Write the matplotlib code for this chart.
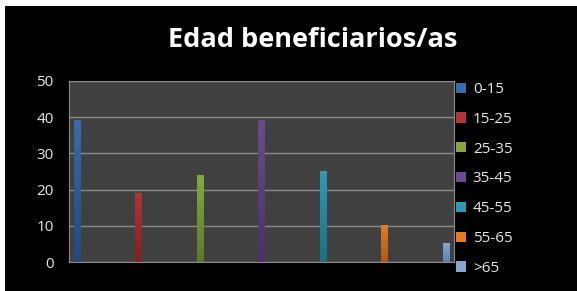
import numpy as np
import matplotlib.pyplot as plt
from matplotlib.patches import Rectangle, Patch
from matplotlib.colors import LinearSegmentedColormap

categorias = ['0-15', '15-25', '25-35', '35-45', '45-55', '55-65', '>65']
valores = [39, 19, 24, 39, 25, 10, 5]
colores = ['#3a6aa8', '#b03535', '#86a83e', '#6a4b8f', '#2e9ab5', '#e47b25', '#86a6d0']
oscuros = ['#234a7a', '#7e2222', '#5e7a28', '#4a3268', '#1d6f85', '#b05814', '#5d7fae']

plt.rcParams['font.family'] = ['Open Sans', 'DejaVu Sans']

fig = plt.figure(figsize=(5.77, 2.91), dpi=100)
fig.patch.set_facecolor('white')
fig.add_artist(Rectangle((5 / 577, 0), 1, 1 - 6 / 291, transform=fig.transFigure,
                         facecolor='black', edgecolor='none', zorder=-10))

ax = fig.add_axes([69 / 577, 29 / 291, 385 / 577, 181 / 291])
ax.set_facecolor('#404040')

x = np.arange(len(valores))
ancho = 0.1
grad = np.linspace(0, 1, 50).reshape(-1, 1)
for i, v in enumerate(valores):
    # degradado vertical como en Excel
    cmap = LinearSegmentedColormap.from_list('g', [oscuros[i], colores[i]])
    ax.imshow(grad, extent=(x[i] - ancho / 2, x[i] + ancho / 2, 0, v), origin='lower',
              cmap=cmap, aspect='auto', zorder=3)

ax.set_xlim(-0.13, 6.13)
ax.set_ylim(0, 50)
ax.set_yticks([0, 10, 20, 30, 40, 50])
ax.set_xticks([])
ax.yaxis.grid(True, color='#8a8a8a', linewidth=1)
ax.set_axisbelow(True)
for s in ax.spines.values():
    s.set_color('#8a8a8a')
ax.tick_params(axis='y', length=0, pad=11, labelsize=11, labelcolor='#e6e6e6')

fig.text(313 / 577, 1 - 40 / 291, 'Edad beneficiarios/as', ha='center', va='center',
         color='white', fontsize=19.5, fontweight='bold')

handles = [Patch(facecolor=c, edgecolor='none') for c in colores]
leg = fig.legend(handles, categorias, loc='upper left', bbox_to_anchor=(456 / 577, 1 - 82 / 291),
                 frameon=False, fontsize=11, labelcolor='#e6e6e6', labelspacing=0.97,
                 handlelength=0.65, handleheight=0.65, handletextpad=0.45, borderaxespad=0,
                 borderpad=0)

fig.savefig('out.png', dpi=100)
